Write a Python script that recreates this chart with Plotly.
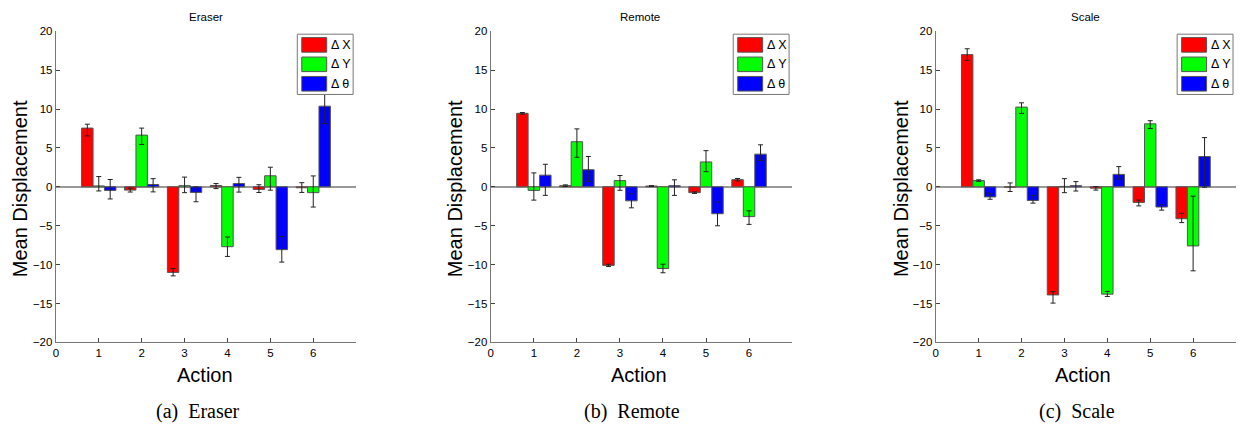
import plotly.graph_objects as go

W, H = 1241, 431

actions = [1, 2, 3, 4, 5, 6]
series_names = ["Δ X", "Δ Y", "Δ θ"]
series_colors = ["#FF0000", "#00FF00", "#0000FF"]

panel_titles = ["Eraser", "Remote", "Scale"]
panel_captions = ["(a)  Eraser", "(b)  Remote", "(c)  Scale"]

# Eraser
eraser_dx = [7.55, -0.42, -11.0, 0.17, -0.33, -0.12]
eraser_dx_up = [0.5, 0.25, 0.5, 0.25, 0.6, 0.65]
eraser_dx_dn = [1.0, 0.25, 0.45, 0.4, 0.4, 0.6]
eraser_dy = [0.12, 6.65, 0.15, -7.7, 1.42, -0.75]
eraser_dy_up = [1.2, 0.9, 1.1, 1.25, 1.1, 2.15]
eraser_dy_dn = [0.65, 1.2, 0.9, 1.25, 1.85, 1.85]
eraser_dt = [-0.46, 0.3, -0.72, 0.42, -8.08, 10.37]
eraser_dt_up = [1.4, 0.75, 0.7, 0.8, 1.7, 2.2]
eraser_dt_dn = [1.1, 0.95, 1.2, 1.1, 1.6, 2.25]

# Remote
remote_dx = [9.45, 0.15, -10.1, 0.1, -0.75, 0.92]
remote_dx_up = [0.1, 0.1, 0.15, 0.05, 0.1, 0.15]
remote_dx_dn = [0.1, 0.1, 0.15, 0.05, 0.1, 0.15]
remote_dy = [-0.46, 5.8, 0.8, -10.5, 3.2, -3.83]
remote_dy_up = [2.25, 1.65, 0.65, 0.55, 1.45, 0.75]
remote_dy_dn = [1.25, 2.0, 1.25, 0.55, 1.25, 1.0]
remote_dt = [1.5, 2.2, -1.8, 0.15, -3.46, 4.2]
remote_dt_up = [1.4, 1.7, 0.9, 0.75, 1.5, 1.2]
remote_dt_dn = [2.6, 1.5, 0.9, 1.25, 1.55, 0.8]

# Scale
scale_dx = [17.0, -0.05, -13.9, -0.17, -2.0, -4.1]
scale_dx_up = [0.75, 0.55, 0.45, 0.2, 0.3, 0.7]
scale_dx_dn = [0.75, 0.55, 1.05, 0.25, 0.45, 0.5]
scale_dy = [0.8, 10.25, 0.05, -13.8, 8.1, -7.6]
scale_dy_up = [0.1, 0.55, 1.0, 0.35, 0.4, 6.4]
scale_dy_dn = [0.1, 0.8, 0.8, 0.3, 0.6, 3.2]
scale_dt = [-1.3, -1.75, 0.15, 1.6, -2.6, 3.9]
scale_dt_up = [0.47, 0.65, 0.52, 1.0, 0.3, 2.43]
scale_dt_dn = [0.3, 0.35, 0.69, 0.6, 0.4, 3.95]

panels = [
    [(eraser_dx, eraser_dx_up, eraser_dx_dn), (eraser_dy, eraser_dy_up, eraser_dy_dn), (eraser_dt, eraser_dt_up, eraser_dt_dn)],
    [(remote_dx, remote_dx_up, remote_dx_dn), (remote_dy, remote_dy_up, remote_dy_dn), (remote_dt, remote_dt_up, remote_dt_dn)],
    [(scale_dx, scale_dx_up, scale_dx_dn), (scale_dy, scale_dy_up, scale_dy_dn), (scale_dt, scale_dt_up, scale_dt_dn)],
]

y_ticks = [-20, -15, -10, -5, 0, 5, 10, 15, 20]
x_ticks = [0, 1, 2, 3, 4, 5, 6, 7]
x_ticklabels = ["0", "1", "2", "3", "4", "5", "6", ""]

# layout geometry (pixels)
plot_x = [(53, 354), (489, 791), (935, 1236)]
plot_top, plot_bottom = 26, 346
ylabel_x = [17, 453, 900]
title_cx = [203, 639, 1085]
xlabel_cx = [202, 638, 1083]
caption_cx = [195, 631, 1077]

SANS = "Liberation Sans, Arial, sans-serif"
SERIF = "Liberation Serif, Times New Roman, serif"


def px(x):
    return x / W


def py(y):
    return 1 - y / H


fig = go.Figure()
for p, series in enumerate(panels):
    ax = "" if p == 0 else str(p + 1)
    for s, (vals, up, dn) in enumerate(series):
        fig.add_trace(go.Bar(
            x=actions, y=vals, name=series_names[s],
            marker=dict(color=series_colors[s], line=dict(color="#555555", width=1)),
            error_y=dict(type="data", symmetric=False, array=up, arrayminus=dn,
                         color="#222222", thickness=1, width=2.5),
            xaxis="x" + ax, yaxis="y" + ax,
            showlegend=False, hoverinfo="skip",
        ))

layout = dict(
    width=W, height=H,
    margin=dict(l=0, r=0, t=0, b=0),
    paper_bgcolor="white", plot_bgcolor="white",
    barmode="group", bargap=0.2, bargroupgap=0,
    font=dict(family=SANS, size=11, color="black"),
    showlegend=False,
)

annotations = []
shapes = []
for p in range(3):
    ax = "" if p == 0 else str(p + 1)
    x0, x1 = plot_x[p]
    layout["xaxis" + ax] = dict(
        domain=[px(x0), px(x1)], range=[0, 7], anchor="y" + ax,
        tickmode="array", tickvals=x_ticks, ticktext=x_ticklabels,
        ticks="inside", ticklen=4, tickcolor="#444444",
        showline=True, linecolor="#777777", linewidth=1.3,
        showgrid=False, zeroline=False,
        tickfont=dict(family=SANS, size=11.5), fixedrange=True,
    )
    layout["yaxis" + ax] = dict(
        domain=[py(plot_bottom), py(plot_top)], range=[-20, 20], anchor="x" + ax,
        tickmode="array", tickvals=y_ticks,
        ticks="inside", ticklen=4, tickcolor="#444444",
        showline=True, linecolor="#777777", linewidth=1.3,
        showgrid=False, zeroline=True, zerolinecolor="#999999", zerolinewidth=1.5,
        tickfont=dict(family=SANS, size=11.5), fixedrange=True,
    )
    annotations.append(dict(text=panel_titles[p], x=px(title_cx[p]), y=py(11),
                            xref="paper", yref="paper", showarrow=False,
                            font=dict(family=SANS, size=11.5), xanchor="center", yanchor="middle"))
    annotations.append(dict(text="Mean Displacement", x=px(ylabel_x[p]), y=py(187.5),
                            xref="paper", yref="paper", showarrow=False, textangle=-90,
                            font=dict(family=SANS, size=20), xanchor="center", yanchor="middle"))
    annotations.append(dict(text="Action", x=px(xlabel_cx[p]), y=py(380),
                            xref="paper", yref="paper", showarrow=False,
                            font=dict(family=SANS, size=20), xanchor="center", yanchor="middle"))
    annotations.append(dict(text=panel_captions[p], x=px(caption_cx[p]), y=py(417),
                            xref="paper", yref="paper", showarrow=False,
                            font=dict(family=SERIF, size=20), xanchor="center", yanchor="middle"))

    # legend box (top-right inside axes)
    lg_r = x1 - 3
    lg_l = lg_r - 56
    lg_t, lg_b = 29, 91
    shapes.append(dict(type="rect", xref="paper", yref="paper",
                       x0=px(lg_l), x1=px(lg_r), y0=py(lg_b), y1=py(lg_t),
                       fillcolor="white", line=dict(color="#777777", width=1), layer="above"))
    for s in range(3):
        cy = lg_t + 11 + 20 * s
        shapes.append(dict(type="rect", xref="paper", yref="paper",
                           x0=px(lg_l + 4.5), x1=px(lg_l + 29.5), y0=py(cy + 7.5), y1=py(cy - 7.5),
                           fillcolor=series_colors[s], line=dict(color="#555555", width=1), layer="above"))
        annotations.append(dict(text=series_names[s], x=px(lg_l + 31.5), y=py(cy),
                                xref="paper", yref="paper", showarrow=False,
                                font=dict(family=SANS, size=12.5), xanchor="left", yanchor="middle"))

layout["annotations"] = annotations
layout["shapes"] = shapes
fig.update_layout(**layout)
fig.write_html(
    "out.html",
    config={"displayModeBar": False},
    post_script="document.body.style.margin='0';document.body.style.overflow='hidden';",
)
